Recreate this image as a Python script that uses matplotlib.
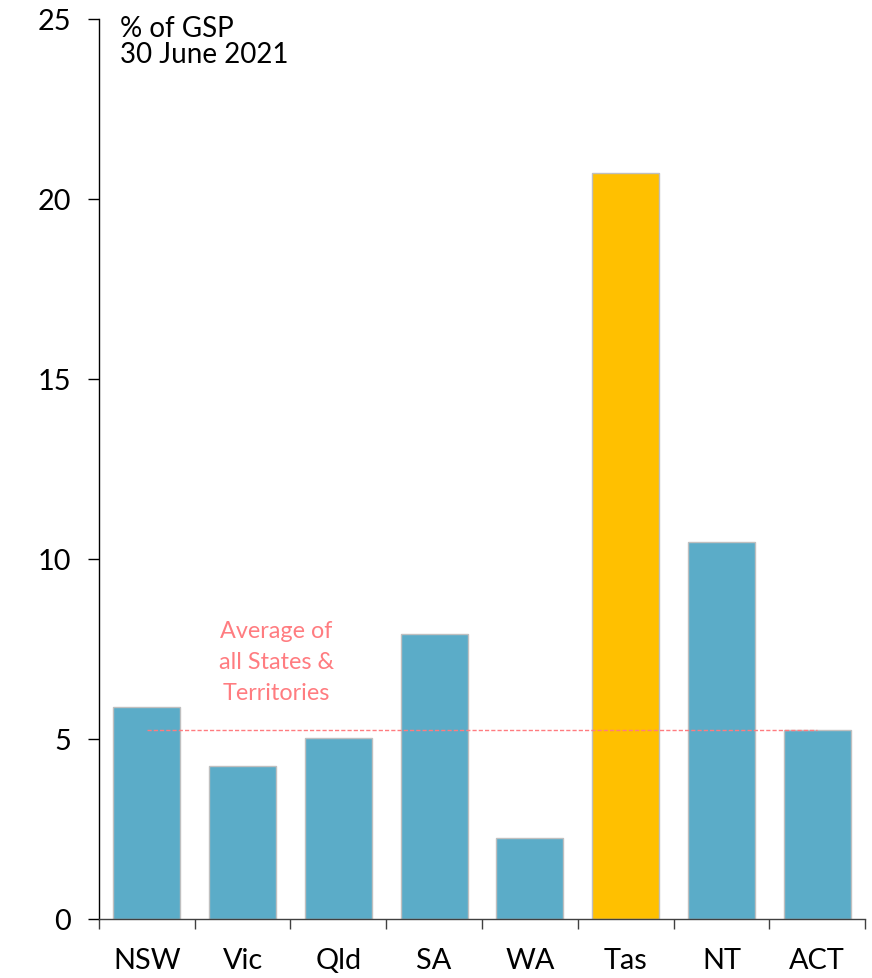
"""
Net debt by state as % of GSP, 30 June 2021 - bar chart with average line.
"""

import numpy as np
import matplotlib
matplotlib.use('Agg')
import matplotlib.pyplot as plt

plt.rcParams['font.family'] = ['Lato', 'DejaVu Sans']

# data
states = ['NSW', 'Vic', 'Qld', 'SA', 'WA', 'Tas', 'NT', 'ACT']
values = [5.88, 4.25, 5.02, 7.92, 2.25, 20.72, 10.46, 5.25]
average = 5.25
highlight = 'Tas'

BLUE = '#5BACC8'
GOLD = '#FFC000'
PINK = '#FF7C80'

fig = plt.figure(figsize=(8.72, 9.79), dpi=100)
ax = fig.add_axes([0.1135, 0.0603, 0.8785, 0.9193])

x = np.arange(len(states))
colors = [GOLD if s == highlight else BLUE for s in states]
ax.bar(x, values, width=0.7, color=colors, edgecolor='#BFBFBF', linewidth=1.0, zorder=2)

# average line from first to last bar centre
ax.plot([x[0], x[-1]], [average, average], color=PINK, linestyle=(0, (3, 1.5)),
        linewidth=1.0, zorder=3)
note_lines = ['Average of', 'all States &', 'Territories']
note_y = [7.83, 6.96, 6.11]
for line, yy in zip(note_lines, note_y):
    ax.text(1.35, yy, line, color=PINK, fontsize=16.8, ha='center', va='baseline')

ax.set_xlim(-0.5, len(states) - 0.5)
ax.set_ylim(0, 25)
ax.set_yticks([0, 5, 10, 15, 20, 25])

# category labels between boundary ticks
ax.set_xticks(np.arange(-0.5, len(states), 1.0))
ax.set_xticklabels([])
ax.set_xticks(x, minor=True)
ax.set_xticklabels(states, minor=True)
ax.tick_params(axis='x', which='major', direction='out', length=7.5, width=1.0, color='#404040')
ax.tick_params(axis='x', which='minor', length=0, labelsize=20.8, pad=20)
ax.tick_params(axis='y', direction='out', length=8, width=1.0, labelsize=20.8, pad=12)

for side in ['top', 'right']:
    ax.spines[side].set_visible(False)
ax.spines['left'].set_linewidth(1.0)
ax.spines['bottom'].set_linewidth(1.0)
ax.spines['bottom'].set_color('#404040')

fig.text(0.1376, 1 - 37 / 979, '% of GSP', fontsize=20, ha='left', va='baseline')
fig.text(0.1376, 1 - 63 / 979, '30 June 2021', fontsize=20, ha='left', va='baseline')

fig.savefig('out.png', dpi=100)
